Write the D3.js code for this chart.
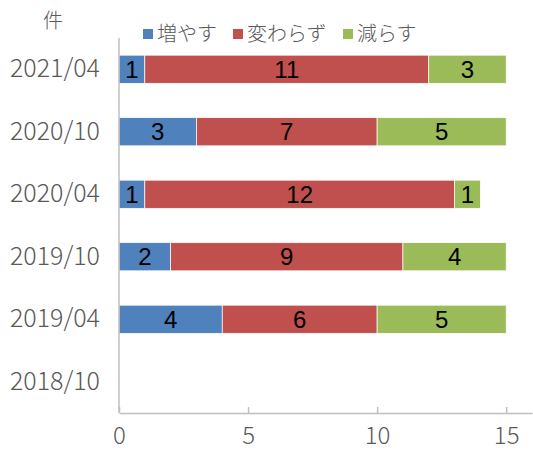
<!DOCTYPE html>
<html>
<head>
<meta charset="utf-8">
<script src="https://cdn.jsdelivr.net/npm/d3@7"></script>
<style>
  body { margin: 0; background: #fff; }
  svg { display: block; }
</style>
</head>
<body>
<svg width="533" height="450"></svg>
<script>
//data
const periods = ["2021/04", "2020/10", "2020/04", "2019/10", "2019/04", "2018/10"];
const seriesNames = ["増やす", "変わらず", "減らす"];
const seriesColors = ["#4F81BD", "#C0504D", "#9BBB59"];
const increase = [1, 3, 1, 2, 4, 0];
const same = [11, 7, 12, 9, 6, 0];
const decrease = [3, 5, 1, 4, 5, 0];
const xTicks = [0, 5, 10, 15];

const svg = d3.select("svg");
const jpFont = "'Noto Sans CJK JP', 'Noto Sans', sans-serif";

var rows = periods.map((p, i) => ({period: p, "増やす": increase[i], "変わらず": same[i], "減らす": decrease[i]}));
var stacked = d3.stack().keys(seriesNames)(rows);

var xScale = d3.scaleLinear().domain([0, 16]).range([119, 532]);
var yScale = d3.scaleBand().domain(periods).range([38, 413]).paddingInner(0.55).paddingOuter(0.275);
var color = d3.scaleOrdinal().domain(seriesNames).range(seriesColors);

//bars
var layers = svg.append("g").selectAll("g")
  .data(stacked)
  .enter().append("g")
    .attr("fill", d => color(d.key));

layers.selectAll("rect")
  .data(d => d.filter(s => s[1] - s[0] > 0))
  .enter().append("rect")
    .attr("x", s => xScale(s[0]))
    .attr("y", s => yScale(s.data.period))
    .attr("width", s => xScale(s[1]) - xScale(s[0]))
    .attr("height", yScale.bandwidth())
    .attr("stroke", "#fff")
    .attr("stroke-width", 0.7);

//value labels
layers.selectAll("text")
  .data(d => d.filter(s => s[1] - s[0] > 0))
  .enter().append("text")
    .attr("x", s => (xScale(s[0]) + xScale(s[1])) / 2)
    .attr("y", s => yScale(s.data.period) + yScale.bandwidth() / 2)
    .attr("dy", "0.36em")
    .attr("text-anchor", "middle")
    .attr("fill", "#000")
    .style("font-family", "'Liberation Sans', Arial, sans-serif")
    .style("font-size", "24px")
    .text(s => s[1] - s[0]);

//x axis
var xAxis = svg.append("g")
  .attr("transform", "translate(0, 413)")
  .call(d3.axisBottom(xScale).tickValues(xTicks).tickSizeInner(-6).tickSizeOuter(0).tickPadding(14));
xAxis.select(".domain").attr("stroke", "#BFBFBF").attr("stroke-width", 1.5);
xAxis.selectAll(".tick line").attr("stroke", "#BFBFBF").attr("stroke-width", 1.5);
xAxis.selectAll(".tick text")
  .attr("fill", "#595959")
  .style("font-family", jpFont)
  .style("font-weight", 300)
  .style("font-size", "24px");

//y axis
var yAxis = svg.append("g")
  .attr("transform", "translate(119, 0)")
  .call(d3.axisLeft(yScale).tickSize(0).tickPadding(19));
yAxis.select(".domain").attr("stroke", "#BFBFBF").attr("stroke-width", 1.5).attr("d", "M0,38V413");
yAxis.selectAll(".tick text")
  .attr("fill", "#595959")
  .style("font-family", jpFont)
  .style("font-weight", 300)
  .style("font-size", "25px");

//unit label
svg.append("text")
  .attr("x", 53)
  .attr("y", 28)
  .attr("text-anchor", "middle")
  .attr("fill", "#595959")
  .style("font-family", jpFont)
  .style("font-weight", 300)
  .style("font-size", "20px")
  .text("件");

//legend
var legendX = [143, 233, 343];
var legend = svg.append("g").selectAll("g")
  .data(seriesNames)
  .enter().append("g")
    .attr("transform", (d, i) => `translate(${legendX[i]}, 34)`);

legend.append("rect")
  .attr("x", 0)
  .attr("y", -5)
  .attr("width", 10)
  .attr("height", 10)
  .attr("fill", d => color(d));

legend.append("text")
  .attr("x", 14)
  .attr("y", 0)
  .attr("dy", "0.36em")
  .attr("fill", "#595959")
  .style("font-family", jpFont)
  .style("font-weight", 300)
  .style("font-size", "20px")
  .text(d => d);
</script>
</body>
</html>
